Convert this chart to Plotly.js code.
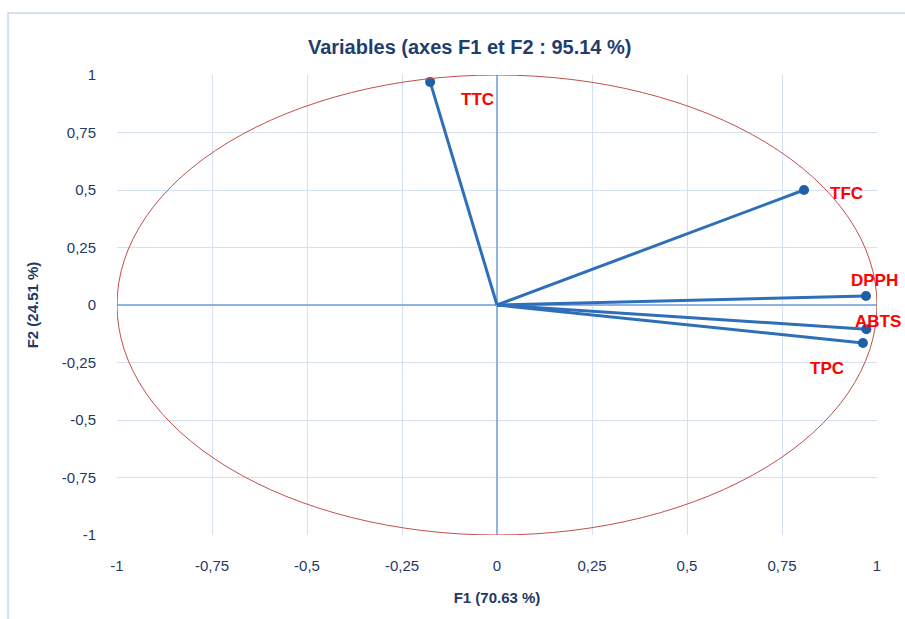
<!DOCTYPE html>
<html>
<head>
<meta charset="utf-8">
<script src="https://cdn.plot.ly/plotly-3.0.1.min.js"></script>
<style>html,body{margin:0;padding:0;background:#fff;}#chart{width:905px;height:619px;}</style>
</head>
<body>
<div id="chart"></div>
<script>
const variables = ["TTC", "TFC", "DPPH", "ABTS", "TPC"];
const f1 = [-0.176, 0.808, 0.971, 0.972, 0.963];
const f2 = [0.970, 0.500, 0.039, -0.105, -0.165];
const tickVals = [-1, -0.75, -0.5, -0.25, 0, 0.25, 0.5, 0.75, 1];
const tickText = ["-1", "-0,75", "-0,5", "-0,25", "0", "0,25", "0,5", "0,75", "1"];
// pixel offsets of each label from its point
const labelDx = [47, 42, 9, 12, -36];
const labelDy = [-18, -3, 16, 8, -26];

const FONT = "Liberation Sans, Arial, sans-serif";
const traces = [];
variables.forEach((v, i) => {
  traces.push({
    x: [0, f1[i]], y: [0, f2[i]], type: "scatter", mode: "lines",
    line: {color: "#2e6fba", width: 3}, hoverinfo: "skip", showlegend: false
  });
});
traces.push({
  x: f1, y: f2, type: "scatter", mode: "markers",
  marker: {color: "#1f5fa8", size: 10},
  showlegend: false, cliponaxis: false
});

const annotations = variables.map((v, i) => ({
  x: f1[i], y: f2[i], xref: "x", yref: "y", text: "<b>" + v + "</b>",
  showarrow: false, xanchor: "center", yanchor: "middle",
  xshift: labelDx[i], yshift: labelDy[i],
  font: {family: FONT, size: 17, color: "#ff0000"}
}));

const axisCommon = {
  range: [-1, 1], tickvals: tickVals, ticktext: tickText,
  showgrid: true, gridcolor: "#d5e0f1", gridwidth: 1,
  zeroline: true, zerolinecolor: "#8db4e2", zerolinewidth: 1.5,
  showline: false, ticks: "",
  tickfont: {family: FONT, size: 15, color: "#1f3864"},
  fixedrange: true
};

const layout = {
  width: 905, height: 619,
  margin: {l: 117, r: 28, t: 75, b: 84},
  paper_bgcolor: "#ffffff", plot_bgcolor: "#ffffff",
  title: {
    text: "<b>Variables (axes F1 et F2 : 95.14 %)</b>",
    font: {family: FONT, size: 20, color: "#1f3e6e"},
    x: 0.519, xanchor: "center", y: 0.924, yanchor: "middle"
  },
  xaxis: Object.assign({}, axisCommon, {
    ticklabelstandoff: 20,
    title: {text: "<b>F1 (70.63 %)</b>", font: {family: FONT, size: 15, color: "#1f3864"}, standoff: 19}
  }),
  yaxis: Object.assign({}, axisCommon, {
    ticklabelstandoff: 20,
    title: {text: "<b>F2 (24.51 %)</b>", font: {family: FONT, size: 15, color: "#1f3864"}, standoff: 19}
  }),
  annotations: annotations,
  shapes: [
    {type: "circle", xref: "x", yref: "y", x0: -1, x1: 1, y0: -1, y1: 1,
     line: {color: "#c0504d", width: 1}, layer: "above"},
    {type: "rect", xref: "paper", yref: "paper", x0: -0.1434, x1: 1.05, y0: -0.3, y1: 1.1348,
     line: {color: "#c9d8ee", width: 1.5}, layer: "below"}
  ]
};

Plotly.newPlot("chart", traces, layout, {displayModeBar: false, staticPlot: true});
</script>
</body>
</html>
